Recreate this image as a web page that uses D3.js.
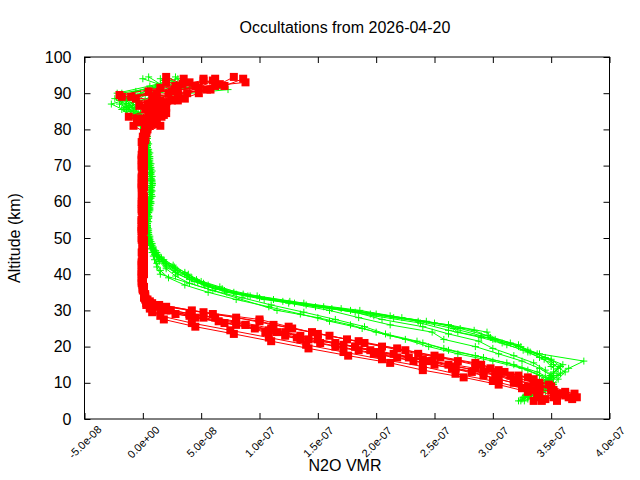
<!DOCTYPE html>
<html>
<head>
<meta charset="utf-8">
<script src="https://cdn.jsdelivr.net/npm/d3@7"></script>
<style>
body { margin: 0; background: #fff; }
text { font-family: "Liberation Sans", Arial, sans-serif; }
</style>
</head>
<body>
<script>
// altitude grids (km), the sampling grids used by the occultations
var altsA = [6, 8, 10, 12, 14, 16, 18, 20, 22, 24,
             26, 28, 30, 32, 34, 36, 38, 40, 42, 44,
             46, 48, 50, 52, 54, 56, 58, 60, 62, 64,
             66, 68, 70, 72, 74, 76, 78, 80, 82, 84,
             86, 88, 90, 92, 94];
var altsB = [5, 7, 9, 11, 13, 15, 17, 19, 21, 23,
             25, 27, 29, 31, 33, 35, 37, 39, 41, 43,
             45, 47, 49, 51, 53, 55, 57, 59, 61, 63,
             65, 67, 69, 71, 73, 75, 77, 79, 81, 83,
             85, 87, 89, 91, 93];
var altsC = [5.5, 7.5, 9.5, 11.5, 13.5, 15.5, 17.5, 19.5, 21.5, 23.5,
             25.5, 27.5, 29.5, 31.5, 33.5, 35.5, 37.5, 39.5, 41.5, 43.5,
             45.5, 47.5, 49.5, 51.5, 53.5, 55.5, 57.5, 59.5, 61.5, 63.5,
             65.5, 67.5, 69.5, 71.5, 73.5, 75.5, 77.5, 79.5, 81.5, 83.5,
             85.5, 87.5, 89.5, 91.5, 93.5];
var altsD = [6.5, 8.5, 10.5, 12.5, 14.5, 16.5, 18.5, 20.5, 22.5, 24.5,
             26.5, 28.5, 30.5, 32.5, 34.5, 36.5, 38.5, 40.5, 42.5, 44.5,
             46.5, 48.5, 50.5, 52.5, 54.5, 56.5, 58.5, 60.5, 62.5, 64.5,
             66.5, 68.5, 70.5, 72.5, 74.5, 76.5, 78.5, 80.5, 82.5, 84.5,
             86.5, 88.5, 90.5, 92.5, 94.5];

// green profiles, N2O VMR in ppbv (null = missing level)
var green1 = [326, 337, 344, 349, 356, 350, 338, 324, 300, 295,
              262, 222, 186, 138, 98, 68, 50, 39, 27, 18,
              12, 8, 6, 5, 4, 5, 6, 7, 6, 7,
              8, 7, 6, 6, 5, 5, 4, 3, 2, -4,
              -9, -14, -2, 12, 22];
var green2 = [322, 333, 341, 348, 352, 360, 345, 330, 315, 296,
              272, 243, 200, 155, 112, 78, 56, 42, 30, 20,
              13, 9, 7, 5, 4, 4, 5, 6, 7, 8,
              8, 7, 6, 5, 5, 4, 3, 2, -2, -8,
              -14, -27, -6, 4, 37];
var green3 = [330, 342, 350, 355, 365, 378, 340, 322, 302, 270,
              262, 215, 178, 130, 92, 62, 47, 36, 25, 17,
              11, 7, 5, 4, 4, 4, 5, 6, 7, 7,
              7, 6, 5, 5, 4, 4, 3, 2, 1, -3,
              -16, -20, -22, 6, 30];
var green4 = [327, 340, 350, 356, 362, 352, 340, 326, 308, 290,
              266, 236, 195, 148, 104, 72, 53, 40, 28, 19,
              12, 8, 6, 5, 4, 4, 4, 5, 6, 7,
              8, 8, 7, 6, 5, 4, 3, 1, -1, -5,
              -10, -15, 10, 73, 25];
var green5 = [330, 342, 352, 350, 340, 325, 305, 285, 258, 248,
              212, 185, 160, 125, 90, 62, 44, 30, 20, 14,
              10, 7, 5, 4, 4, 5, 6, 6, 7, 7,
              7, 6, 6, 5, 4, 3, 3, 2, 0, -6,
              -12, -18, 8, 45, 15];
var green6 = [324, 332, 345, 350, 338, 318, 292, 262, 240, 212,
              188, 160, 135, 108, 80, 56, 36, 22, 15, 12,
              9, 7, 5, 4, 4, 4, 5, 6, 6, 7,
              8, 7, 6, 5, 4, 4, 3, 2, 1, -2,
              -8, -20, -12, 25, 50];
var green7 = [326, 338, 348, 340, 325, 300, 270, 245, 225, 200,
              178, 150, 115, null, null, null, null, 15, 12, 10,
              8, 6, 5, 4, 4, 5, 5, 6, 7, 7,
              7, 7, 6, 5, 4, 3, 2, 1, -1, -4,
              -6, -12, -18, 18, 0];
var green8 = [325, 345, 340, 352, 345, 335, 318, 300, 288, 262,
              240, 205, 182, 140, 100, 70, 52, 38, 28, 18,
              13, 9, 6, 5, 4, 5, 6, 7, 8, 7,
              8, 6, 7, 5, 6, 4, 4, 3, 1, -6,
              -14, -4, 10, 28, 18];
var green9 = [335, 348, 342, 358, 350, 344, 330, 322, 298, 284,
              250, 212, 170, 126, 86, 66, 46, 36, 26, 16,
              11, 8, 6, 5, 5, 4, 5, 6, 6, 7,
              7, 8, 6, 6, 5, 4, 3, 3, 2, -2,
              -12, -24, -6, 15, 5];
var green10 = [330, 338, 352, 345, 330, 312, 285, 258, 235, 208,
               190, 165, 138, 110, 85, 60, 40, 28, 20, 14,
               10, 8, 6, 4, 4, 5, 5, 6, 7, 6,
               7, 7, 6, 6, 5, 4, 3, 2, 0, -10,
               -18, -8, 2, 40, 60];
var green11 = [328, 342, 348, 352, 358, 350, 332, 312, 290, 262,
               238, 198, 162, 120, 80, 56, 40, 28, 20, 13,
               9, 7, 5, 4, 4, 4, 6, 5, 7, 8,
               7, 6, 7, 5, 4, 4, 3, 2, 3, -4,
               -9, -16, 12, 35, 28];

// red profiles, N2O VMR in ppbv
var red1 = [352, 340, 322, 304, 268, 245, 204, 182, 142, 122,
            88, 62, 24, 5, 1, 0, 0, -1, 0, 0,
            0, 1, 0, -1, 0, 0, 1, 0, 0, -1,
            0, 0, 1, 1, 0, 0, 1, 2, 5, 10,
            8, 15, 22, 45, 62];
var red2 = [335, 370, 340, 318, 292, 262, 228, 195, 165, 135,
            110, 80, 40, 12, 3, 1, 0, 0, -1, 0,
            1, 0, 0, 0, -1, 0, 1, 1, 0, 0,
            -1, 0, 0, 1, 1, 0, 0, 3, -8, 4,
            12, 6, -18, 30, 88];
var red3 = [365, 350, 340, 322, 298, 270, 236, 205, 175, 145,
            112, 80, 42, 8, 2, 0, -1, 0, 0, 1,
            0, 0, -1, 0, 1, 0, 0, -1, 0, 1,
            1, 0, 0, -1, 0, 1, 2, 4, 12, 18,
            20, 10, 38, 70, 86];
var red4 = [342, 358, 330, 305, 282, 250, 218, 185, 152, 122,
            96, 65, 28, 6, 2, 1, 0, 0, 0, -1,
            0, 0, 1, 0, 0, -1, 0, 0, 1, 0,
            0, 1, 0, 0, -1, 0, 2, 1, 6, -5,
            5, 18, 8, 55, 40];
var red5 = [340, 335, 318, 292, 265, 232, 198, 165, 135, 105,
            80, 45, 15, 3, 1, 0, 0, 0, 1, 0,
            -1, 0, 0, 1, 0, 0, -1, 0, 0, 0,
            1, 0, -1, 0, 0, 1, 0, 3, -2, 8,
            3, 25, 12, 28, 35];
var red6 = [355, 362, 350, 335, 310, 290, 255, 225, 190, 160,
            128, 100, 60, 20, 4, 1, 0, -1, 0, 0,
            0, 1, 0, 0, 0, -1, 0, 1, 0, 0,
            0, -1, 0, 1, 0, 0, 1, 2, 15, 0,
            14, 4, -10, 58, 20];
var red7 = [372, 352, 335, 315, 285, 248, 215, 182, 150, 115,
            88, 52, 20, 4, 1, 0, 0, 1, 0, 0,
            0, 0, 0, -1, 0, 1, 0, 0, -1, 0,
            0, 1, 0, 0, 1, 0, 1, 2, 3, 14,
            18, 30, 48, 62, 52];
var red8 = [345, 330, 305, 275, 240, 212, 176, 142, 110, 78,
            45, 18, 8, 3, 1, 0, -1, 0, 0, 1,
            0, 0, -1, 0, 0, 1, 0, -1, 0, 0,
            1, 0, 0, -1, 0, 1, 2, 2, 3, -12,
            6, 20, -20, 15, 52];
var red9 = [362, 350, 322, 302, 268, 240, 200, 172, 132, 108,
            70, 40, 16, 6, 2, 1, 0, 0, -1, 0,
            0, 1, 0, 0, -1, 0, 0, 1, 0, 0,
            -1, 0, 1, 0, 0, 1, 1, 3, 7, 20,
            -3, 36, 25, 66, 78];
var red10 = [368, 362, 348, 330, 305, 285, 250, 218, 185, 150,
             125, 100, 52, 14, 2, 1, 0, 0, 0, -1,
             0, 0, 1, 0, 0, 0, -1, 0, 1, 0,
             0, 0, -1, 1, 0, 0, 2, 3, 9, 16,
             2, 10, 30, 48, 60];
var red11 = [338, 325, 300, 268, 240, 205, 172, 140, 108, 75,
             42, 15, 6, 3, 1, 0, 0, -1, 0, 0,
             1, 0, 0, -1, 0, 0, 1, 0, 0, -1,
             0, 1, 0, 0, 0, -1, 1, 2, 1, 5,
             14, -6, 5, 34, 20];

// axis ticks
var xTicks = [-50, 0, 50, 100, 150, 200, 250, 300, 350, 400];
var xTickLabels = ["-5.0e-08", "0.0e+00", "5.0e-08", "1.0e-07", "1.5e-07",
                   "2.0e-07", "2.5e-07", "3.0e-07", "3.5e-07", "4.0e-07"];
var yTicks = [0, 10, 20, 30, 40, 50, 60, 70, 80, 90, 100];

var greenProfiles = [[altsA, green1], [altsB, green2], [altsA, green3], [altsB, green4],
                     [altsA, green5], [altsB, green6], [altsA, green7], [altsC, green8],
                     [altsD, green9], [altsC, green10], [altsD, green11]];
var redProfiles = [[altsA, red1], [altsB, red2], [altsA, red3], [altsB, red4],
                   [altsA, red5], [altsB, red6], [altsA, red7], [altsC, red8],
                   [altsD, red9], [altsC, red10], [altsD, red11]];

var width = 640, height = 480;
// plot box (window.top is reserved, so use other names)
var plotLeft = 84.5, plotRight = 609.5, plotTop = 57, plotBottom = 419;

var x = d3.scaleLinear().domain([-50, 400]).range([plotLeft, plotRight]);
var y = d3.scaleLinear().domain([0, 100]).range([plotBottom, plotTop]);

var svg = d3.select("body").append("svg")
    .attr("width", width)
    .attr("height", height);

// pair the altitudes with the values, dropping missing levels
function toPoints(p) {
    return p[1].map(function(v, i) { return {alt: p[0][i], v: v}; })
        .filter(function(d) { return d.v !== null; });
}

var line = d3.line()
    .x(function(d) { return x(d.v); })
    .y(function(d) { return y(d.alt); });

// green profiles: thin line + crosses
var gGreen = svg.append("g");
greenProfiles.forEach(function(p) {
    var pts = toPoints(p);
    gGreen.append("path")
        .attr("d", line(pts))
        .attr("fill", "none")
        .attr("stroke", "#00ff00")
        .attr("stroke-width", 1);
    gGreen.selectAll(null)
        .data(pts)
        .enter().append("path")
        .attr("transform", function(d) { return "translate(" + x(d.v) + "," + y(d.alt) + ")"; })
        .attr("d", "M-3.5,0H3.5M0,-3.5V3.5")
        .attr("stroke", "#00ff00")
        .attr("stroke-width", 1);
});

// red profiles: line + filled squares
var gRed = svg.append("g");
redProfiles.forEach(function(p) {
    var pts = toPoints(p);
    gRed.append("path")
        .attr("d", line(pts))
        .attr("fill", "none")
        .attr("stroke", "#ff0000")
        .attr("stroke-width", 1);
    gRed.selectAll(null)
        .data(pts)
        .enter().append("rect")
        .attr("x", function(d) { return x(d.v) - 4; })
        .attr("y", function(d) { return y(d.alt) - 4; })
        .attr("width", 8)
        .attr("height", 8)
        .attr("fill", "#ff0000");
});

// axes, ticks inward on all four sides like gnuplot
var xAxis = svg.append("g")
    .attr("transform", "translate(0," + plotBottom + ")")
    .call(d3.axisBottom(x).tickValues(xTicks).tickSizeInner(-6).tickSizeOuter(0)
        .tickFormat(function(d, i) { return xTickLabels[i]; }));
xAxis.selectAll("text")
    .attr("y", 0)
    .attr("dy", "0.35em")
    .attr("transform", "translate(0,23) rotate(-45)")
    .style("text-anchor", "middle")
    .style("font-size", "11px");

var yAxis = svg.append("g")
    .attr("transform", "translate(" + plotLeft + ",0)")
    .call(d3.axisLeft(y).tickValues(yTicks).tickSizeInner(-6).tickSizeOuter(0).tickPadding(13));
yAxis.selectAll("text")
    .style("font-size", "16px");

svg.append("g")
    .attr("transform", "translate(0," + plotTop + ")")
    .call(d3.axisTop(x).tickValues(xTicks).tickSizeInner(-6).tickSizeOuter(0).tickFormat(""));
svg.append("g")
    .attr("transform", "translate(" + plotRight + ",0)")
    .call(d3.axisRight(y).tickValues(yTicks).tickSizeInner(-6).tickSizeOuter(0).tickFormat(""));

svg.selectAll(".domain").remove();
svg.selectAll(".tick line").attr("stroke", "#000");
svg.selectAll(".tick text").attr("fill", "#000").style("font-family", "'Liberation Sans', Arial, sans-serif");

// frame
svg.append("rect")
    .attr("x", plotLeft)
    .attr("y", plotTop)
    .attr("width", plotRight - plotLeft)
    .attr("height", plotBottom - plotTop)
    .attr("fill", "none")
    .attr("stroke", "#000")
    .attr("stroke-width", 1);

// titles
svg.append("text")
    .attr("x", 345)
    .attr("y", 32.5)
    .attr("text-anchor", "middle")
    .style("font-size", "16px")
    .text("Occultations from 2026-04-20");

svg.append("text")
    .attr("x", 345)
    .attr("y", 471)
    .attr("text-anchor", "middle")
    .style("font-size", "16px")
    .text("N2O VMR");

svg.append("text")
    .attr("transform", "translate(20,238) rotate(-90)")
    .attr("text-anchor", "middle")
    .style("font-size", "16px")
    .text("Altitude (km)");
</script>
</body>
</html>
